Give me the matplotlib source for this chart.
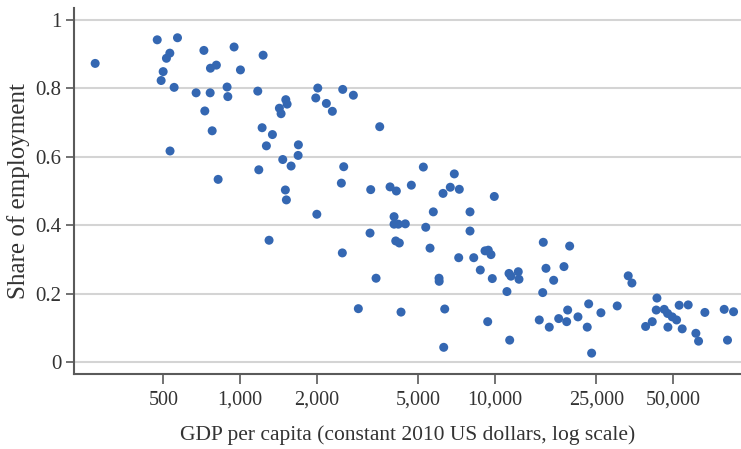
import matplotlib
matplotlib.use("Agg")
import matplotlib.pyplot as plt
from matplotlib.ticker import FixedLocator, FixedFormatter, NullLocator

gdp = [270, 473, 568, 530, 514, 499, 490, 551, 531, 721, 947, 765, 807, 1003, 672, 763, 889, 895,
       727, 777, 820, 1231, 1173, 1220, 1339, 1268, 1184, 1470, 1585, 1689, 1693, 1426, 1448, 1511,
       1529, 1505, 1519, 2017, 1981, 2180, 2301, 2527, 2782, 3530, 2550, 2496, 3254, 3875, 4102,
       4697, 5235, 6254, 6678, 6925, 7244, 9938, 2000, 1299, 2518, 3234, 4018, 4018, 4177, 4448,
       4080, 4214, 5350, 5728, 5561, 7980, 7980, 7205, 8254, 9139, 9413, 9645, 8757, 9759, 3415,
       6032, 6040, 2910, 4279, 6350, 9363, 6293, 11350, 11550, 12340, 12420, 11140, 11420, 15470,
       15850, 16990, 18650, 19630, 15390, 14920, 16330, 17780, 19110, 19280, 21160, 23310, 23010,
       23940, 26040, 30170, 33320, 34450, 38990, 41400, 43190, 42920, 46120, 47560, 49580, 51580,
       47690, 52800, 57280, 54260, 61400, 62910, 66600, 79300, 86300, 81700]
share = [0.873, 0.942, 0.948, 0.903, 0.888, 0.849, 0.823, 0.803, 0.617, 0.911, 0.921, 0.859, 0.868,
         0.854, 0.787, 0.787, 0.804, 0.776, 0.734, 0.676, 0.534, 0.897, 0.792, 0.685, 0.665, 0.632,
         0.562, 0.592, 0.573, 0.604, 0.635, 0.742, 0.726, 0.767, 0.754, 0.503, 0.474, 0.801, 0.772,
         0.756, 0.733, 0.797, 0.780, 0.688, 0.571, 0.523, 0.504, 0.512, 0.500, 0.517, 0.570, 0.493,
         0.511, 0.550, 0.505, 0.484, 0.432, 0.356, 0.319, 0.377, 0.425, 0.403, 0.403, 0.404, 0.354,
         0.348, 0.394, 0.439, 0.333, 0.439, 0.383, 0.305, 0.305, 0.325, 0.327, 0.314, 0.269, 0.244,
         0.245, 0.245, 0.236, 0.156, 0.146, 0.155, 0.118, 0.043, 0.259, 0.251, 0.264, 0.242, 0.206,
         0.064, 0.350, 0.274, 0.239, 0.279, 0.339, 0.203, 0.123, 0.102, 0.127, 0.118, 0.152, 0.132,
         0.170, 0.102, 0.026, 0.144, 0.164, 0.252, 0.231, 0.104, 0.118, 0.187, 0.152, 0.154, 0.142,
         0.132, 0.123, 0.102, 0.166, 0.167, 0.097, 0.084, 0.061, 0.145, 0.154, 0.147, 0.064]

x_ticks = [500, 1000, 2000, 5000, 10000, 25000, 50000]
x_tick_labels = ["500", "1,000", "2,000", "5,000", "10,000", "25,000", "50,000"]
y_ticks = [0, 0.2, 0.4, 0.6, 0.8, 1]
y_tick_labels = ["0", "0.2", "0.4", "0.6", "0.8", "1"]

plt.rcParams['font.family'] = ['Liberation Serif', 'DejaVu Serif']

fig = plt.figure(figsize=(7.41, 4.49), dpi=100)
ax = fig.add_axes([74/741, 75/449, 1 - 74/741, (374 - 8)/449])

ax.scatter(gdp, share, s=42, color='#3467b2', edgecolors='none', zorder=3)

ax.set_xscale('log')
ax.set_xlim(223, 92300)
ax.set_ylim(-0.035, 1.035)

ax.xaxis.set_major_locator(FixedLocator(x_ticks))
ax.xaxis.set_major_formatter(FixedFormatter(x_tick_labels))
ax.xaxis.set_minor_locator(NullLocator())
ax.yaxis.set_major_locator(FixedLocator(y_ticks))
ax.yaxis.set_major_formatter(FixedFormatter(y_tick_labels))

ax.grid(axis='y', color='#d4d4d4', linewidth=1.5, zorder=0)
ax.set_axisbelow(True)

for s in ['top', 'right']:
    ax.spines[s].set_visible(False)
for s in ['left', 'bottom']:
    ax.spines[s].set_color('#5a5a5a')
    ax.spines[s].set_linewidth(1.5)

ax.tick_params(axis='y', length=6, width=1.2, color='#5a5a5a', labelsize=15,
               labelcolor='#333333', pad=3)
ax.tick_params(axis='x', length=7, width=1.2, color='#5a5a5a', labelsize=14.5,
               labelcolor='#333333', pad=5)

ax.set_xlabel("GDP per capita (constant 2010 US dollars, log scale)", fontsize=15.5,
              color='#333333', labelpad=11)
ax.set_ylabel("Share of employment", fontsize=18, color='#333333', labelpad=4)

fig.savefig("out.png", dpi=100)
